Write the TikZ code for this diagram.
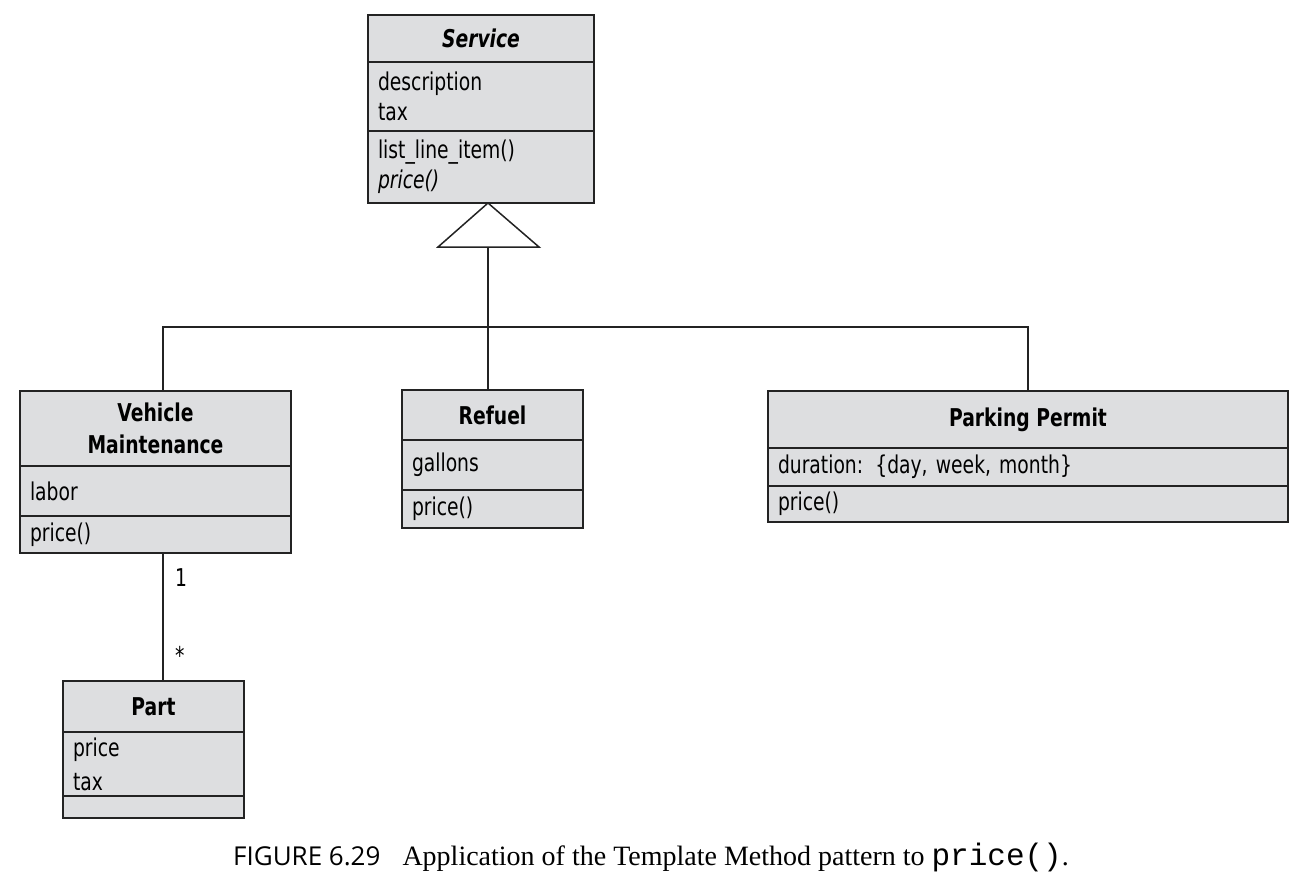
\documentclass[tikz,border=0pt]{standalone}
\usepackage{fontspec}
\setmainfont{Liberation Serif}
\setmonofont{Liberation Mono}
\newfontfamily\umlfont[FakeStretch=0.85]{DejaVu Sans Condensed}
\newfontfamily\capfont{Open Sans}
\usetikzlibrary{positioning}
\definecolor{ClassGrey}{RGB}{221,222,224}
\definecolor{LineGrey}{RGB}{35,35,35}

\begin{document}
\begin{tikzpicture}[x=1pt, y=-1pt, font=\umlfont\fontsize{24.5}{30}\selectfont,
  hd/.style={draw=LineGrey, line width=1.6pt, fill=ClassGrey, outer sep=0pt, inner sep=0pt, align=center, font=\umlfont\bfseries\fontsize{24.5}{32}\selectfont},
  cp/.style={draw=LineGrey, line width=1.6pt, fill=ClassGrey, outer sep=0pt, inner xsep=10pt, inner ysep=0pt, align=left, text width=#1},
  ln/.style={draw=LineGrey, line width=1.5pt}]
\useasboundingbox (0,0) rectangle (1305,884);
% Service
\node[hd, minimum width=226pt, minimum height=47pt, anchor=north west] (svc) at (368,15) {\textit{Service}};
\node[cp=206pt, minimum height=69pt, below=0pt of svc] (svcA) {description\\tax};
\node[cp=206pt, minimum height=72pt, below=0pt of svcA] (svcM) {list\_line\_item()\\\textit{price()}};
% Vehicle Maintenance
\node[hd, minimum width=271pt, minimum height=75pt, anchor=north west] (vm) at (20,391) {Vehicle\\Maintenance};
\node[cp=251pt, minimum height=50pt, below=0pt of vm] (vmA) {labor};
\node[cp=251pt, minimum height=37pt, below=0pt of vmA] (vmM) {price()};
% Refuel
\node[hd, minimum width=181pt, minimum height=50pt, anchor=north west] (rf) at (402,390) {Refuel};
\node[cp=161pt, minimum height=50pt, below=0pt of rf] (rfA) {gallons};
\node[cp=161pt, minimum height=38pt, below=0pt of rfA] (rfM) {price()};
% Parking Permit
\node[hd, minimum width=520pt, minimum height=57pt, anchor=north west] (pp) at (768,391) {Parking Permit};
\node[cp=500pt, minimum height=38pt, below=0pt of pp] (ppA) {duration: \{day, week, month\}};
\node[cp=500pt, minimum height=36pt, below=0pt of ppA] (ppM) {price()};
% Part
\node[hd, minimum width=181pt, minimum height=51pt, anchor=north west] (pt) at (63,681) {Part};
\node[cp=161pt, minimum height=64pt, below=0pt of pt, font=\umlfont\fontsize{24.5}{34}\selectfont] (ptA) {price\\tax};
\node[cp=161pt, minimum height=22pt, below=0pt of ptA] (ptM) {};
% generalisation
\coordinate (apex) at (488,203);
\coordinate (base) at (488,247);
\coordinate (bar) at (488,327);
\draw[ln, fill=white] (apex) -- (539,247) -- (438,247) -- cycle;
\draw[ln] (base) -- (base |- rf.north);
\draw[ln] ([xshift=7.5pt]vm.north) |- (bar) -| (pp.north);
% association
\draw[ln] ([xshift=7.5pt]vmM.south) -- ([xshift=9.5pt]pt.north)
  node[pos=0.19, right=8pt] {1} node[pos=0.80, right=8pt] {*};
% caption
\node[font=\rmfamily\fontsize{28}{32}\selectfont] (cap) at (651,857) {{\capfont\fontsize{26}{32}\selectfont FIGURE 6.29}\hspace{22pt}Application of the Template Method pattern to \texttt{\fontsize{31}{32}\selectfont price()}.};
\end{tikzpicture}
\end{document}
